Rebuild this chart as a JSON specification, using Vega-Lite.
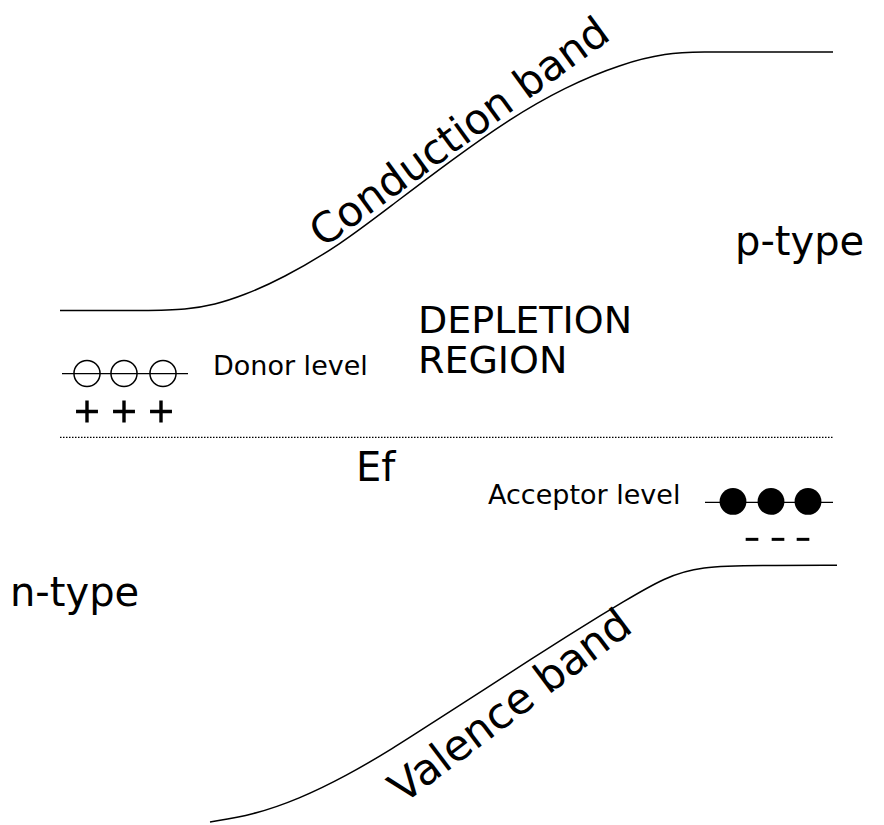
{
  "$schema": "https://vega.github.io/schema/vega-lite/v6.json",
  "width": 884,
  "height": 825,
  "autosize": {"type": "fit", "contains": "padding"},
  "padding": 0,
  "background": "white",
  "config": {"view": {"stroke": null}, "font": "DejaVu Sans"},
  "encoding": {
    "x": {"field": "x", "type": "quantitative", "scale": {"domain": [0, 884]}, "axis": null},
    "y": {"field": "y", "type": "quantitative", "scale": {"domain": [0, 825], "reverse": true}, "axis": null}
  },
  "layer": [
    {
      "data": {"values": [
        {"band": "conduction", "x": 60, "y": 311},
        {"band": "conduction", "x": 150, "y": 311},
        {"band": "conduction", "x": 186, "y": 310},
        {"band": "conduction", "x": 215, "y": 305},
        {"band": "conduction", "x": 243, "y": 296},
        {"band": "conduction", "x": 282, "y": 279},
        {"band": "conduction", "x": 339, "y": 246},
        {"band": "conduction", "x": 395, "y": 203},
        {"band": "conduction", "x": 452, "y": 160},
        {"band": "conduction", "x": 508, "y": 120},
        {"band": "conduction", "x": 565, "y": 87},
        {"band": "conduction", "x": 621, "y": 64},
        {"band": "conduction", "x": 667, "y": 53},
        {"band": "conduction", "x": 700, "y": 52},
        {"band": "conduction", "x": 760, "y": 52},
        {"band": "conduction", "x": 833, "y": 52},
        {"band": "valence", "x": 210, "y": 823},
        {"band": "valence", "x": 253, "y": 816},
        {"band": "valence", "x": 299, "y": 800},
        {"band": "valence", "x": 346, "y": 777},
        {"band": "valence", "x": 392, "y": 750},
        {"band": "valence", "x": 438, "y": 720},
        {"band": "valence", "x": 485, "y": 690},
        {"band": "valence", "x": 531, "y": 660},
        {"band": "valence", "x": 578, "y": 630},
        {"band": "valence", "x": 624, "y": 602},
        {"band": "valence", "x": 665, "y": 578},
        {"band": "valence", "x": 700, "y": 567},
        {"band": "valence", "x": 760, "y": 566},
        {"band": "valence", "x": 837, "y": 566}
      ]},
      "mark": {"type": "line", "interpolate": "basis", "color": "black", "strokeWidth": 1.5},
      "encoding": {"detail": {"field": "band"}}
    },
    {
      "data": {"values": [
        {"level": "Ef", "x": 60, "x2": 833, "y": 438}
      ]},
      "mark": {"type": "rule", "color": "black", "strokeWidth": 1.2, "strokeDash": [1.5, 1.5]},
      "encoding": {"x2": {"field": "x2"}}
    },
    {
      "data": {"values": [
        {"level": "donor", "x": 62, "x2": 188, "y": 374},
        {"level": "acceptor", "x": 705, "x2": 833, "y": 503}
      ]},
      "mark": {"type": "rule", "color": "black", "strokeWidth": 1.3},
      "encoding": {"x2": {"field": "x2"}}
    },
    {
      "data": {"values": [
        {"x": 87, "y": 374}, {"x": 124, "y": 374}, {"x": 163, "y": 374}
      ]},
      "mark": {"type": "point", "shape": "circle", "filled": false, "color": "black", "strokeWidth": 1.5, "size": 680, "opacity": 1}
    },
    {
      "data": {"values": [
        {"x": 733, "y": 502}, {"x": 771, "y": 502}, {"x": 808, "y": 502}
      ]},
      "mark": {"type": "point", "shape": "circle", "filled": true, "color": "black", "size": 720, "opacity": 1}
    },
    {
      "data": {"values": [
        {"x": 87, "y": 412}, {"x": 124, "y": 412}, {"x": 161, "y": 412}
      ]},
      "mark": {"type": "point", "shape": "M-1,0H1M0,-1V1", "filled": false, "color": "black", "strokeWidth": 3.4, "size": 480, "opacity": 1}
    },
    {
      "data": {"values": [
        {"x": 752, "y": 540}, {"x": 778, "y": 540}, {"x": 803, "y": 540}
      ]},
      "mark": {"type": "point", "shape": "M-1,0H1", "filled": false, "color": "black", "strokeWidth": 3, "size": 160, "opacity": 1}
    },
    {
      "data": {"values": [
        {"label": "Conduction band", "x": 460, "y": 133}
      ]},
      "mark": {"type": "text", "align": "center", "baseline": "middle", "angle": 324, "fontSize": 42, "color": "black"},
      "encoding": {"text": {"field": "label"}}
    },
    {
      "data": {"values": [
        {"label": "Valence band", "x": 511, "y": 708}
      ]},
      "mark": {"type": "text", "align": "center", "baseline": "middle", "angle": 323, "fontSize": 43, "color": "black"},
      "encoding": {"text": {"field": "label"}}
    },
    {
      "data": {"values": [
        {"label": "DEPLETION", "x": 418, "y": 322},
        {"label": "REGION", "x": 418, "y": 362}
      ]},
      "mark": {"type": "text", "align": "left", "baseline": "middle", "fontSize": 38, "color": "black"},
      "encoding": {"text": {"field": "label"}}
    },
    {
      "data": {"values": [
        {"label": "Ef", "x": 356, "y": 470},
        {"label": "n-type", "x": 10, "y": 595},
        {"label": "p-type", "x": 735, "y": 243}
      ]},
      "mark": {"type": "text", "align": "left", "baseline": "middle", "fontSize": 40, "color": "black"},
      "encoding": {"text": {"field": "label"}}
    },
    {
      "data": {"values": [
        {"label": "Donor level", "x": 213, "y": 367},
        {"label": "Acceptor level", "x": 488, "y": 497}
      ]},
      "mark": {"type": "text", "align": "left", "baseline": "middle", "fontSize": 27, "color": "black"},
      "encoding": {"text": {"field": "label"}}
    }
  ]
}
